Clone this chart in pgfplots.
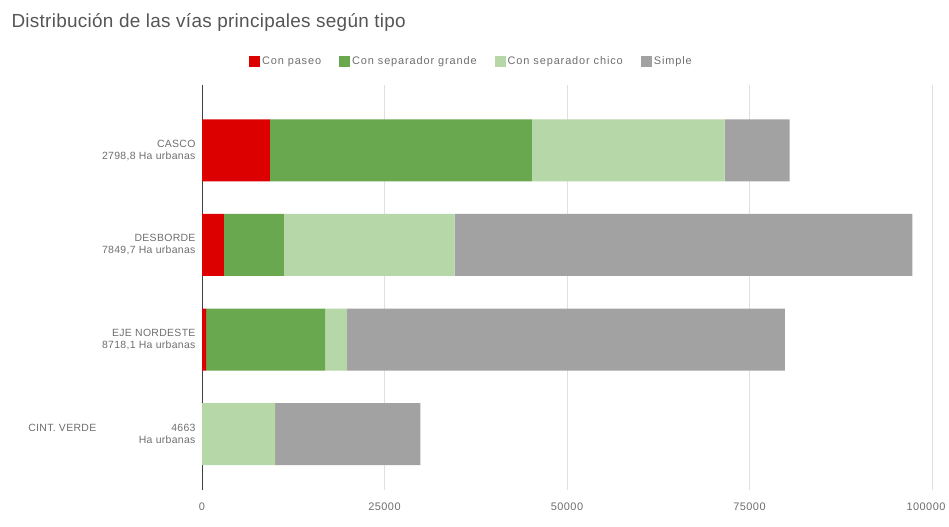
\documentclass[border=0pt]{standalone}
\usepackage{pgfplots}
\pgfplotsset{compat=1.18}
\usepackage{fontspec}
\setmainfont{Liberation Sans}
\definecolor{cpaseo}{RGB}{220,0,0}
\definecolor{cgrande}{RGB}{106,168,79}
\definecolor{cchico}{RGB}{182,215,168}
\definecolor{csimple}{RGB}{162,162,162}
\definecolor{txt}{RGB}{110,110,110}
\definecolor{ttl}{RGB}{85,85,85}
\definecolor{gridc}{RGB}{224,224,224}
\begin{document}
\begin{tikzpicture}
\useasboundingbox (0,0) rectangle (949bp,527bp);
\node[anchor=west, text=ttl, font=\fontsize{19}{22}\selectfont\addfontfeature{LetterSpace=1.5}] at (8bp,504bp) {Distribución de las vías principales según tipo};
\begin{axis}[
  at={(202bp,37bp)}, anchor=south west,
  scale only axis, width=730bp, height=405bp,
  xbar stacked, bar width=62bp,
  xmin=0, xmax=100000,
  ymin=-0.69, ymax=3.59, y dir=reverse,
  ytick={0,1,2,3},
  yticklabels={{CASCO\\2798,8 Ha urbanas},{DESBORDE\\7849,7 Ha urbanas},{EJE NORDESTE\\8718,1 Ha urbanas},{CINT. VERDE\hspace{75bp}4663\\Ha urbanas}},
  yticklabel style={align=right, text=txt, font=\fontsize{10.5}{12}\selectfont\addfontfeature{LetterSpace=3}, xshift=-3bp},
  xtick={0,25000,50000,75000,100000},
  xticklabels={0,25000,50000,75000,{\kern-12bp 100000}},
  xticklabel style={text=txt, font=\fontsize{11}{13}\selectfont\addfontfeature{LetterSpace=4}, yshift=-9bp},
  scaled x ticks=false,
  /pgf/number format/assume math mode=true,
  xmajorgrids, grid style={gridc, line width=0.8pt},
  extra x ticks={0}, extra x tick labels={},
  extra x tick style={grid style={black!75, line width=0.9pt}},
  major tick length=0pt,
  axis line style={draw=none},
  clip=false,
  legend columns=4,
  legend style={at={(0.369,1.059)}, anchor=center, draw=none, fill=none,
    font=\fontsize{11}{13}\selectfont\addfontfeature{LetterSpace=8}, text=txt,
    /tikz/every even column/.append style={column sep=16bp}},
  legend image code/.code={\fill[#1] (0bp,-5.5bp) rectangle (11bp,5.5bp);},
]
\addplot[fill=cpaseo, draw=none] coordinates {(9300,0) (3000,1) (550,2) (0,3)};
\addlegendentry{Con paseo}
\addplot[fill=cgrande, draw=none] coordinates {(35900,0) (8200,1) (16300,2) (0,3)};
\addlegendentry{Con separador grande}
\addplot[fill=cchico, draw=none] coordinates {(26400,0) (23400,1) (3000,2) (10000,3)};
\addlegendentry{Con separador chico}
\addplot[fill=csimple, draw=none] coordinates {(8900,0) (62700,1) (60000,2) (19900,3)};
\addlegendentry{Simple}
\end{axis}
\end{tikzpicture}
\end{document}
